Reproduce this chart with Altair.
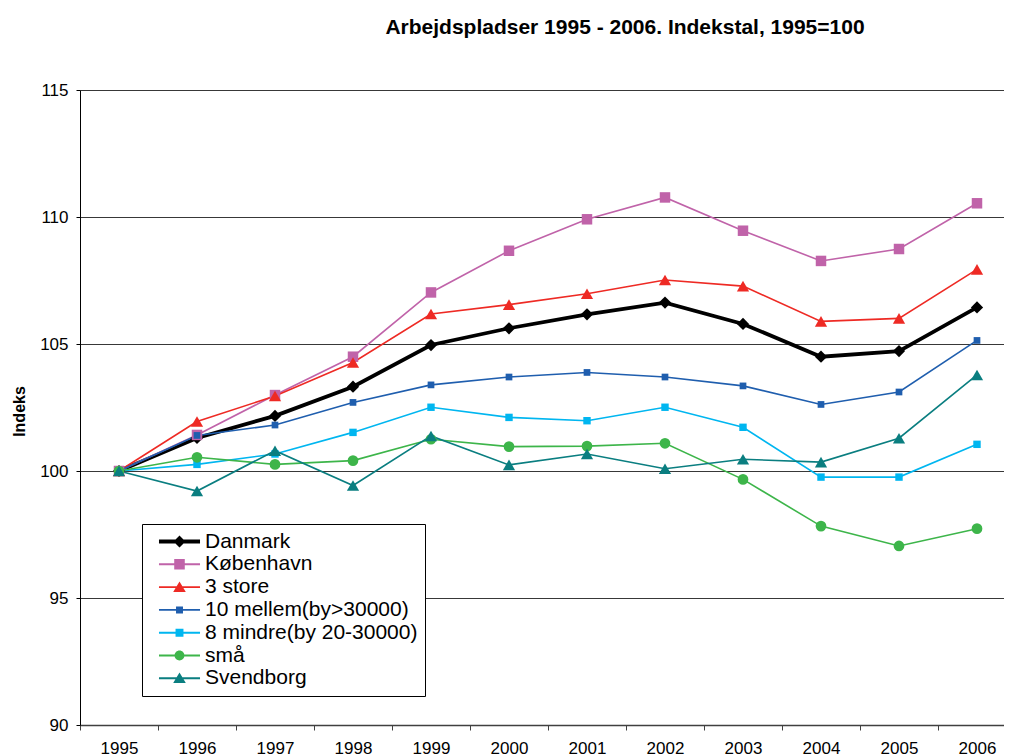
import altair as alt
import pandas as pd

years = ["1995", "1996", "1997", "1998", "1999", "2000", "2001", "2002", "2003", "2004", "2005", "2006"]

series_names = ["Danmark", "København", "3 store", "10 mellem(by>30000)",
                "8 mindre(by 20-30000)", "små", "Svendborg"]

danmark = [100, 101.30, 102.17, 103.32, 104.96, 105.62, 106.17, 106.63, 105.79, 104.50, 104.72, 106.44]
kobenhavn = [100, 101.42, 102.99, 104.50, 107.03, 108.67, 109.91, 110.77, 109.46, 108.27, 108.74, 110.54]
tre_store = [100, 101.95, 102.95, 104.27, 106.18, 106.55, 106.98, 107.52, 107.28, 105.89, 106.01, 107.94]
ti_mellem = [100, 101.40, 101.81, 102.70, 103.39, 103.70, 103.88, 103.70, 103.35, 102.62, 103.11, 105.14]
otte_mindre = [100, 100.26, 100.67, 101.52, 102.51, 102.11, 101.98, 102.51, 101.72, 99.76, 99.76, 101.05]
smaa = [100, 100.54, 100.26, 100.41, 101.25, 100.96, 100.98, 101.09, 99.67, 97.83, 97.05, 97.73]
svendborg = [100, 99.21, 100.80, 99.43, 101.38, 100.24, 100.67, 100.09, 100.46, 100.35, 101.29, 103.78]

all_values = [danmark, kobenhavn, tre_store, ti_mellem, otte_mindre, smaa, svendborg]

colors = ["#000000", "#C063A9", "#EE2A24", "#1F5EAE", "#00B6F0", "#3DB54A", "#0A7E80"]
shapes = ["diamond", "square", "triangle-up", "square", "square", "circle", "triangle-up"]
sizes = [150, 110, 150, 45, 55, 115, 150]
widths = [3.8, 1.6, 1.6, 1.6, 1.6, 1.6, 1.6]

# legend symbols: a filled bar (the line) plus a marker, unit = 6px
def bar(h):
    return "M-3.42,-%s H3.42 V%s H-3.42Z" % (h, h)

legend_paths = [
    bar(0.33) + "M0,-1.0L1.0,0L0,1.0L-1.0,0Z",
    bar(0.16) + "M-0.88,-0.88H0.88V0.88H-0.88Z",
    bar(0.16) + "M0,-0.95L1.05,0.8L-1.05,0.8Z",
    bar(0.16) + "M-0.58,-0.58H0.58V0.58H-0.58Z",
    bar(0.16) + "M-0.66,-0.66H0.66V0.66H-0.66Z",
    bar(0.16) + "M0.82,0A0.82,0.82 0 1,1 -0.82,0A0.82,0.82 0 1,1 0.82,0Z",
    bar(0.16) + "M0,-0.95L1.05,0.8L-1.05,0.8Z",
]

rows = []
for name, vals in zip(series_names, all_values):
    for yr, v in zip(years, vals):
        rows.append({"year": yr, "value": v, "series": name})
df = pd.DataFrame(rows)

FONT = "Liberation Sans"

legend = alt.Legend(
    title=None, orient="none", legendX=62, legendY=434, direction="vertical",
    padding=7, fillColor="white", strokeColor="black", cornerRadius=0,
    labelFont=FONT, labelFontSize=21, labelColor="black", labelLimit=500,
    symbolSize=144, symbolStrokeWidth=0, symbolOffset=20, labelOffset=15,
    rowPadding=0.8, symbolOpacity=1,
)

x_enc = alt.X(
    "year:N", sort=years, bandPosition=0.5,
    scale=alt.Scale(type="band", paddingInner=0, paddingOuter=0, range=[0, 936]),
    axis=alt.Axis(title=None, labelAngle=0, labelFont=FONT, labelFontSize=17, labelColor="black",
                  tickBand="extent", tickSize=5, tickColor="#404040", domainColor="#404040",
                  domainWidth=1.5, labelPadding=10, grid=False),
)
y_enc = alt.Y(
    "value:Q",
    scale=alt.Scale(domain=[90, 115], nice=False, zero=False),
    axis=alt.Axis(title="Indeks", values=[90, 95, 100, 105, 110, 115], labelFont=FONT,
                  labelFontSize=17, labelColor="black", tickSize=4, tickColor="black",
                  domainColor="black", labelPadding=8, grid=True, gridColor="#383838",
                  gridWidth=1, titleFont=FONT, titleFontSize=16, titleFontWeight="bold",
                  titleColor="black", titleAngle=270, titleAlign="center",
                  titleBaseline="middle", titleX=-60.5, titleY=321),
)

# empty layer that only carries the legend (line + marker symbols)
legend_layer = alt.Chart(df).transform_filter("false").mark_point(filled=True, opacity=1).encode(
    x=x_enc, y=y_enc,
    color=alt.Color("series:N", scale=alt.Scale(domain=series_names, range=colors), legend=legend),
    shape=alt.Shape("series:N", scale=alt.Scale(domain=series_names, range=legend_paths),
                    legend=legend),
)

line_layers = []
point_layers = []
for name, col, shp, sz, w in zip(series_names, colors, shapes, sizes, widths):
    base = alt.Chart(df).transform_filter(alt.datum.series == name)
    line_layers.append(base.mark_line(color=col, strokeWidth=w).encode(x=x_enc, y=y_enc))
    point_layers.append(
        base.mark_point(filled=True, opacity=1, strokeWidth=0, shape=shp, size=sz, color=col)
        .encode(x=x_enc, y=y_enc)
    )

chart = alt.layer(legend_layer, *line_layers, *point_layers).properties(
    width=924, height=635,
    title=alt.TitleParams("Arbejdspladser 1995 - 2006. Indekstal, 1995=100", font=FONT,
                          fontSize=21, fontWeight="bold", color="black", anchor="middle",
                          dx=83, offset=26, baseline="alphabetic"),
    autosize=alt.AutoSizeParams(type="none"),
    padding={"left": 72, "top": 82, "right": 0, "bottom": 31},
).configure_view(stroke=None).configure(background="white")

chart.save("out.html", embed_options={"renderer": "svg", "actions": False})
